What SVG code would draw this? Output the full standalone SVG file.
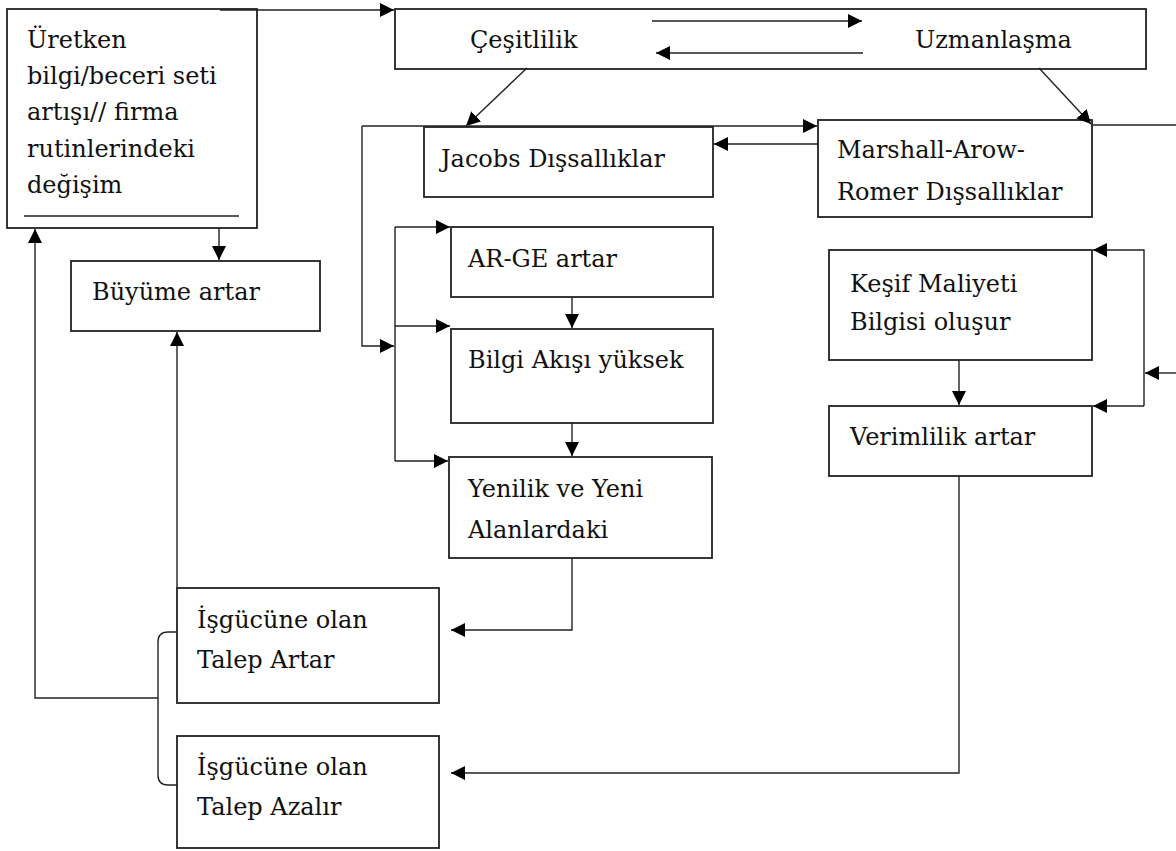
<svg xmlns="http://www.w3.org/2000/svg" width="1176" height="851" viewBox="0 0 1176 851">
<style>
.box{fill:#fff;stroke:#222;stroke-width:1.8}
.c{fill:none;stroke:#222;stroke-width:1.4}
.a{marker-end:url(#ah)}
text{font-family:"DejaVu Serif","Liberation Serif",serif;font-size:24px;fill:#111}
</style>
<defs>
<marker id="ah" markerUnits="userSpaceOnUse" markerWidth="15" markerHeight="14" refX="14" refY="7" orient="auto">
<path d="M0,0 L14,7 L0,14 z" fill="#000"/>
</marker>
</defs>
<rect width="1176" height="851" fill="#fff"/>
<g id="n-uretken"><rect class="box" x="7" y="9" width="250" height="219"/>
<text x="27" y="48">Üretken</text><text x="27" y="84">bilgi/beceri seti</text><text x="27" y="120">artışı// firma</text><text x="27" y="157">rutinlerindeki</text><text x="27" y="193">değişim</text>
<path d="M24,216 H239" stroke="#222" stroke-width="1.4"/></g>
<g id="n-cesitlilik"><rect class="box" x="395" y="9" width="751" height="60"/>
<text x="470" y="48">Çeşitlilik</text><text x="915" y="48">Uzmanlaşma</text></g>
<g id="n-jacobs"><rect class="box" x="424" y="127" width="289" height="70"/><text x="441" y="167">Jacobs Dışsallıklar</text></g>
<g id="n-marshall"><rect class="box" x="818" y="120" width="274" height="97"/><text x="837" y="158">Marshall-Arow-</text><text x="837" y="200">Romer Dışsallıklar</text></g>
<g id="n-buyume"><rect class="box" x="71" y="261" width="249" height="70"/><text x="92" y="300">Büyüme artar</text></g>
<g id="n-arge"><rect class="box" x="451" y="227" width="262" height="70"/><text x="468" y="267">AR-GE artar</text></g>
<g id="n-bilgi"><rect class="box" x="451" y="329" width="262" height="94"/><text x="468" y="368">Bilgi Akışı yüksek</text></g>
<g id="n-yenilik"><rect class="box" x="449" y="457" width="263" height="101"/><text x="468" y="497">Yenilik ve Yeni</text><text x="468" y="538">Alanlardaki</text></g>
<g id="n-kesif"><rect class="box" x="829" y="250" width="263" height="110"/><text x="850" y="292">Keşif Maliyeti</text><text x="850" y="330">Bilgisi oluşur</text></g>
<g id="n-verimlilik"><rect class="box" x="829" y="406" width="263" height="70"/><text x="850" y="445">Verimlilik artar</text></g>
<g id="n-artar"><rect class="box" x="177" y="588" width="262" height="115"/><text x="197" y="628">İşgücüne olan</text><text x="197" y="668">Talep Artar</text></g>
<g id="n-azalir"><rect class="box" x="177" y="736" width="262" height="112"/><text x="197" y="775">İşgücüne olan</text><text x="197" y="815">Talep Azalır</text></g>
<g id="connectors">
<path class="c a" d="M220,10 H394"/>
<path class="c a" d="M652,21 H862"/>
<path class="c a" d="M863,53 H656"/>
<path class="c a" d="M527,68 L466,126"/>
<path class="c a" d="M1039,68 L1091,124"/>
<path class="c a" d="M362,126 V346 H394"/>
<path class="c a" d="M362,126 H817"/>
<path class="c a" d="M818,144 H714"/>
<path class="c" d="M1092,125 H1176"/>
<path class="c" d="M395,227 V461"/>
<path class="c a" d="M395,227 H450"/>
<path class="c a" d="M395,326 H450"/>
<path class="c a" d="M395,461 H448"/>
<path class="c a" d="M572,297 V328"/>
<path class="c a" d="M572,423 V456"/>
<path class="c a" d="M572,558 V630 H451"/>
<path class="c a" d="M959,360 V405"/>
<path class="c a" d="M959,476 V773 H451"/>
<path class="c a" d="M1176,373 H1145"/>
<path class="c a" d="M1144,406 V250 H1093"/>
<path class="c a" d="M1144,406 H1093"/>
<path class="c a" d="M219,228 V260"/>
<path class="c a" d="M177,588 V332"/>
<path class="c" d="M177,632 H168 Q158,632 158,642 V775 Q158,785 168,785 H177"/>
<path class="c a" d="M158,698 H35 V229"/>
</g>
</svg>
